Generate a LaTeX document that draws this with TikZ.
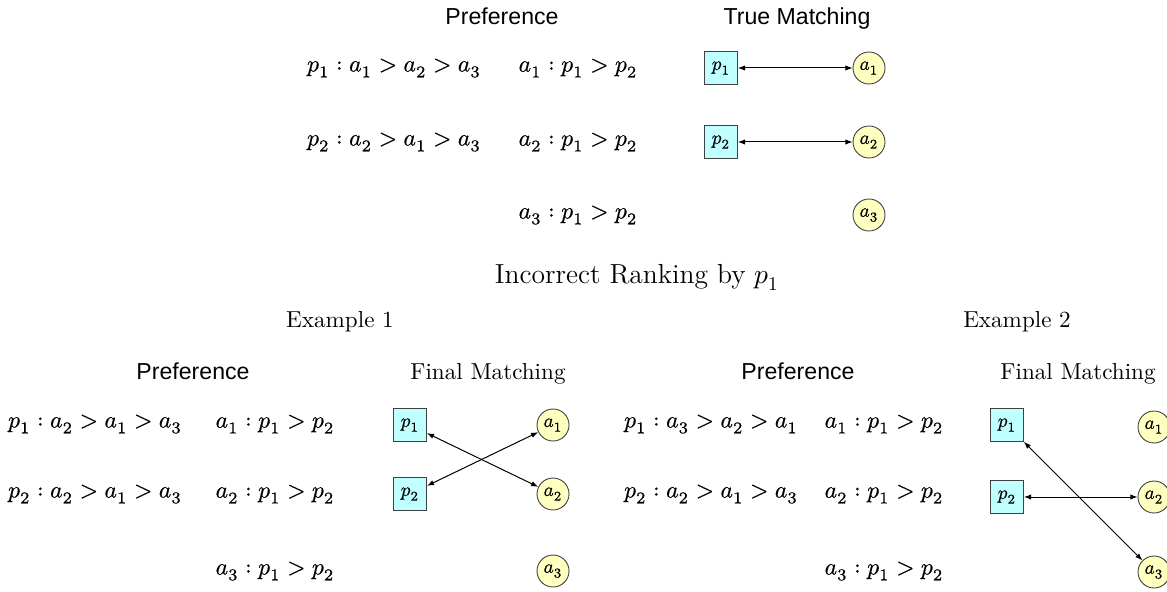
\documentclass[tikz,border=0pt]{standalone}
\usepackage{fontspec}
\usepackage{unicode-math}
\setmathfont{Latin Modern Math}
\setmathfont{Latin Modern Math}[version=heavy, FakeBold=0.6]
\newfontfamily\titlesans{Liberation Sans}
\usetikzlibrary{arrows.meta}
\definecolor{boxcyan}{RGB}{192,255,255}
\definecolor{circyellow}{RGB}{255,255,192}
\begin{document}
\begin{tikzpicture}[x=0.45pt,y=-0.45pt,
  pbox/.style={draw=black!75, fill=boxcyan, minimum size=14.8pt, inner sep=0pt, font=\fontsize{8.6}{10}\selectfont\mathversion{heavy}},
  anode/.style={draw=black!75, fill=circyellow, circle, minimum size=14.4pt, inner sep=0pt, font=\fontsize{8.6}{10}\selectfont\mathversion{heavy}},
  match/.style={{Latex[length=3.2pt,width=2.4pt]}-{Latex[length=3.2pt,width=2.4pt]}, line width=0.45pt},
  stitle/.style={anchor=base, font=\titlesans\fontsize{10.4}{12}\selectfont},
  rtitle/.style={anchor=base, font=\fontsize{10.4}{12}\selectfont},
  pref/.style={font=\fontsize{10.6}{12}\selectfont\mathversion{heavy}}
]
\useasboundingbox (0,0) rectangle (1167,592);
\clip (0,0) rectangle (1167,592);
% ---------- top ----------
\node[stitle] (tpref) at (502,25) {Preference};
\node[stitle] (ttrue) at (797,25) {True Matching};
\node[pref] (tp1l) at (394,68) {$p_1 : a_1 > a_2 > a_3$};
\node[pref] (tp2l) at (394,142) {$p_2 : a_2 > a_1 > a_3$};
\node[pref] (ta1l) at (578,68) {$a_1 : p_1 > p_2$};
\node[pref] (ta2l) at (578,142) {$a_2 : p_1 > p_2$};
\node[pref] (ta3l) at (578,215) {$a_3 : p_1 > p_2$};
\node[pbox] (tp1) at (721,68) {$p_1$};
\node[pbox] (tp2) at (721,142) {$p_2$};
\node[anode] (ta1) at (869,68) {$a_1$};
\node[anode] (ta2) at (869,142) {$a_2$};
\node[anode] (ta3) at (869,215) {$a_3$};
\draw[match] (tp1) -- (ta1);
\draw[match] (tp2) -- (ta2);
% ---------- middle ----------
\node[anchor=base, font=\fontsize{12.4}{14}\selectfont] (incorrect) at (637,284) {Incorrect Ranking by $p_1$};
\node[rtitle] (ex1) at (340,327) {Example 1};
\node[rtitle] (ex2) at (1017,328) {Example 2};
% ---------- example 1 ----------
\node[stitle] (apref) at (193,379) {Preference};
\node[rtitle] (afinal) at (488,379) {Final Matching};
\node[pref] (ap1l) at (95,424) {$p_1 : a_2 > a_1 > a_3$};
\node[pref] (ap2l) at (95,494) {$p_2 : a_2 > a_1 > a_3$};
\node[pref] (aa1l) at (275,424) {$a_1 : p_1 > p_2$};
\node[pref] (aa2l) at (275,494) {$a_2 : p_1 > p_2$};
\node[pref] (aa3l) at (275,571) {$a_3 : p_1 > p_2$};
\node[pbox] (ap1) at (410,425) {$p_1$};
\node[pbox] (ap2) at (410,494) {$p_2$};
\node[anode] (aa1) at (553,425) {$a_1$};
\node[anode] (aa2) at (553,494) {$a_2$};
\node[anode] (aa3) at (553,571) {$a_3$};
\draw[match] (ap1) -- (aa2);
\draw[match] (ap2) -- (aa1);
% ---------- example 2 ----------
\node[stitle] (bpref) at (798,379) {Preference};
\node[rtitle] (bfinal) at (1078,379) {Final Matching};
\node[pref] (bp1l) at (711,424) {$p_1 : a_3 > a_2 > a_1$};
\node[pref] (bp2l) at (711,494) {$p_2 : a_2 > a_1 > a_3$};
\node[pref] (ba1l) at (884,424) {$a_1 : p_1 > p_2$};
\node[pref] (ba2l) at (884,494) {$a_2 : p_1 > p_2$};
\node[pref] (ba3l) at (884,571) {$a_3 : p_1 > p_2$};
\node[pbox] (bp1) at (1007,425) {$p_1$};
\node[pbox] (bp2) at (1007,497) {$p_2$};
\node[anode] (ba1) at (1154,427) {$a_1$};
\node[anode] (ba2) at (1154,497) {$a_2$};
\node[anode] (ba3) at (1154,572) {$a_3$};
\draw[match] (bp1) -- (ba3);
\draw[match] (bp2) -- (ba2);
\end{tikzpicture}
\end{document}
